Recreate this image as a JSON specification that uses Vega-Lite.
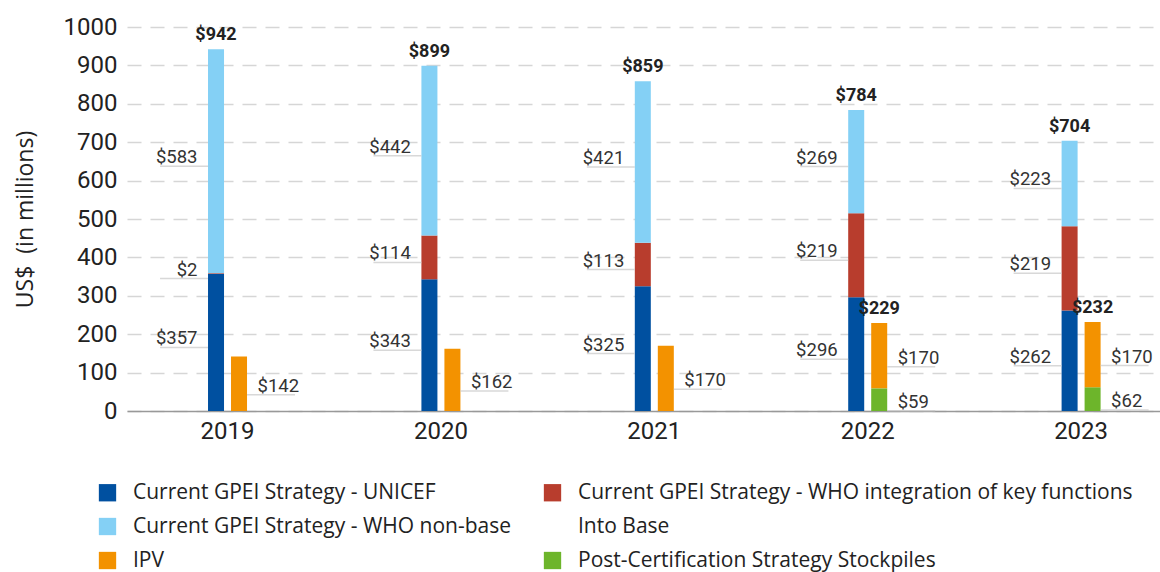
{
  "$schema": "https://vega.github.io/schema/vega-lite/v6.json",
  "width": 1033,
  "height": 384,
  "autosize": {"type": "none"},
  "padding": {"left": 127, "top": 27, "right": 0, "bottom": 161},
  "background": "white",
  "config": {
    "font": "Roboto",
    "view": {"stroke": null},
    "axisY": {"labelOverlap": false, "tickCount": 20, "labelFontSize": 24, "labelColor": "#222222", "labelPadding": 10}
  },
  "data": {
    "values": [
      {"year": "2019", "series": "Current GPEI Strategy - UNICEF", "bar": "main", "ord": 1, "value": 357},
      {"year": "2019", "series": "Current GPEI Strategy - WHO integration of key functions", "bar": "main", "ord": 2, "value": 2},
      {"year": "2019", "series": "Current GPEI Strategy - WHO non-base", "bar": "main", "ord": 3, "value": 583},
      {"year": "2019", "series": "IPV", "bar": "second", "ord": 2, "value": 142},
      {"year": "2020", "series": "Current GPEI Strategy - UNICEF", "bar": "main", "ord": 1, "value": 343},
      {"year": "2020", "series": "Current GPEI Strategy - WHO integration of key functions", "bar": "main", "ord": 2, "value": 114},
      {"year": "2020", "series": "Current GPEI Strategy - WHO non-base", "bar": "main", "ord": 3, "value": 442},
      {"year": "2020", "series": "IPV", "bar": "second", "ord": 2, "value": 162},
      {"year": "2021", "series": "Current GPEI Strategy - UNICEF", "bar": "main", "ord": 1, "value": 325},
      {"year": "2021", "series": "Current GPEI Strategy - WHO integration of key functions", "bar": "main", "ord": 2, "value": 113},
      {"year": "2021", "series": "Current GPEI Strategy - WHO non-base", "bar": "main", "ord": 3, "value": 421},
      {"year": "2021", "series": "IPV", "bar": "second", "ord": 2, "value": 170},
      {"year": "2022", "series": "Current GPEI Strategy - UNICEF", "bar": "main", "ord": 1, "value": 296},
      {"year": "2022", "series": "Current GPEI Strategy - WHO integration of key functions", "bar": "main", "ord": 2, "value": 219},
      {"year": "2022", "series": "Current GPEI Strategy - WHO non-base", "bar": "main", "ord": 3, "value": 269},
      {"year": "2022", "series": "Post-Certification Strategy Stockpiles", "bar": "second", "ord": 1, "value": 59},
      {"year": "2022", "series": "IPV", "bar": "second", "ord": 2, "value": 170},
      {"year": "2023", "series": "Current GPEI Strategy - UNICEF", "bar": "main", "ord": 1, "value": 262},
      {"year": "2023", "series": "Current GPEI Strategy - WHO integration of key functions", "bar": "main", "ord": 2, "value": 219},
      {"year": "2023", "series": "Current GPEI Strategy - WHO non-base", "bar": "main", "ord": 3, "value": 223},
      {"year": "2023", "series": "Post-Certification Strategy Stockpiles", "bar": "second", "ord": 1, "value": 62},
      {"year": "2023", "series": "IPV", "bar": "second", "ord": 2, "value": 170}
    ]
  },
  "transform": [
    {"stack": "value", "groupby": ["year", "bar"], "sort": [{"field": "ord", "order": "ascending"}], "as": ["y0", "y1"]},
    {"calculate": "(datum.y0 + datum.y1) / 2", "as": "mid"},
    {"calculate": "'$' + datum.value", "as": "label"},
    {"joinaggregate": [{"op": "sum", "field": "value", "as": "total"}, {"op": "count", "as": "n"}], "groupby": ["year", "bar"]}
  ],
  "encoding": {
    "x": {
      "field": "year", "type": "ordinal",
      "scale": {"paddingInner": 0.8172, "paddingOuter": 0.329, "align": 0.577},
      "axis": {
        "title": null, "labelAngle": 0, "ticks": false, "domain": true,
        "domainColor": "#999999", "domainWidth": 1.5,
        "labelFontSize": 24, "labelColor": "#222222", "labelPadding": 8
      }
    }
  },
  "layer": [
    {
      "mark": {"type": "bar"},
      "encoding": {
        "xOffset": {"field": "bar", "type": "nominal", "scale": {"domain": ["main", "second"], "paddingInner": 0.304, "paddingOuter": 0}},
        "y": {
          "field": "y0", "type": "quantitative",
          "scale": {"domain": [0, 1000], "nice": false},
          "axis": {
            "values": [0, 100, 200, 300, 400, 500, 600, 700, 800, 900, 1000],
            "tickCount": 20,
            "format": "d", "labelOverlap": false,
            "grid": true, "gridDash": [14, 9], "gridColor": "#d6d6d6", "gridWidth": 1.5,
            "domain": false, "ticks": false,
            "labelFontSize": 24, "labelColor": "#222222", "labelPadding": 10,
            "title": "US$\u00a0\u00a0(in millions)", "titleFont": "Open Sans", "titleFontSize": 23,
            "titleFontWeight": "normal", "titleColor": "#222222", "titlePadding": 26
          }
        },
        "y2": {"field": "y1"},
        "color": {
          "field": "series", "type": "nominal",
          "scale": {
            "domain": [
              "Current GPEI Strategy - UNICEF",
              "Current GPEI Strategy - WHO non-base",
              "IPV",
              "Current GPEI Strategy - WHO integration of key functions",
              "Into Base",
              "Post-Certification Strategy Stockpiles"
            ],
            "range": ["#0050A0", "#84D0F5", "#F39200", "#B83D2D", "rgba(0,0,0,0)", "#6DB52B"]
          },
          "legend": {
            "title": null, "orient": "none", "direction": "vertical", "columns": 2,
            "legendX": -30, "legendY": 455, "padding": 0,
            "symbolType": "square", "symbolSize": 300, "symbolStrokeWidth": 0,
            "labelFont": "Open Sans", "labelFontSize": 21, "labelColor": "#222222", "labelLimit": 700, "labelOffset": 15,
            "rowPadding": 12, "columnPadding": 30
          }
        }
      }
    },
    {
      "transform": [{"filter": "datum.bar == 'main'"}],
      "mark": {"type": "tick", "orient": "horizontal", "size": 48, "thickness": 1.5, "color": "#c8c8c8", "xOffset": -43.5, "yOffset": 5},
      "encoding": {"y": {"field": "mid", "type": "quantitative"}}
    },
    {
      "transform": [{"filter": "datum.bar == 'main'"}],
      "mark": {"type": "text", "align": "right", "baseline": "alphabetic", "dx": -30, "dy": 2, "fontSize": 18.5, "color": "#333333"},
      "encoding": {"y": {"field": "mid", "type": "quantitative"}, "text": {"field": "label"}}
    },
    {
      "transform": [{"filter": "datum.bar == 'second'"}],
      "mark": {"type": "tick", "orient": "horizontal", "size": 48, "thickness": 1.5, "color": "#c8c8c8", "xOffset": 43.5, "yOffset": 11},
      "encoding": {"y": {"field": "mid", "type": "quantitative"}}
    },
    {
      "transform": [{"filter": "datum.bar == 'second'"}],
      "mark": {"type": "text", "align": "left", "baseline": "alphabetic", "dx": 30, "dy": 8, "fontSize": 18.5, "color": "#333333"},
      "encoding": {"y": {"field": "mid", "type": "quantitative"}, "text": {"field": "label"}}
    },
    {
      "transform": [{"filter": "datum.y1 == datum.total && datum.n > 1"}, {"calculate": "'$' + datum.total", "as": "tlabel"}],
      "mark": {"type": "text", "align": "center", "baseline": "alphabetic", "dy": -9, "fontSize": 18, "fontWeight": "bold", "color": "#222222"},
      "encoding": {
        "xOffset": {"field": "bar", "type": "nominal", "scale": {"domain": ["main", "second"], "paddingInner": 0.304, "paddingOuter": 0}},
        "y": {"field": "y1", "type": "quantitative"},
        "text": {"field": "tlabel"}
      }
    }
  ]
}
